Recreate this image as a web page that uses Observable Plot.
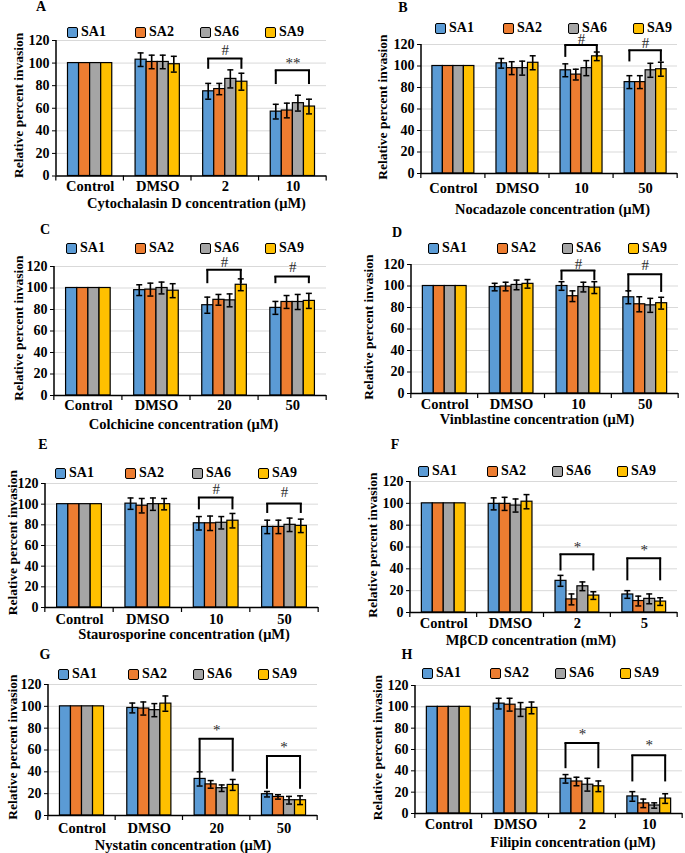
<!DOCTYPE html>
<html><head><meta charset="utf-8">
<script src="https://cdn.jsdelivr.net/npm/d3@7"></script>
<script src="https://cdn.jsdelivr.net/npm/@observablehq/plot@0.6"></script>
<style>
body{margin:0;background:#fff;}
#fig{position:relative;width:685px;height:853px;overflow:hidden;background:#fff;font-family:"Liberation Serif","Times New Roman",serif;color:#000;}
.letter{position:absolute;font-weight:bold;font-size:14px;transform:translate(-50%,-50%);}
.leg{position:absolute;display:flex;align-items:center;font-weight:bold;font-size:14px;transform:translateY(-50%);white-space:nowrap;}
.sw{box-sizing:border-box;width:11px;height:11px;border:1.5px solid #000;border-radius:2px;margin-right:3px;}
svg.p{position:absolute;}
</style></head><body><div id="fig"></div><script>
const series = ["SA1","SA2","SA6","SA9"];
const seriesColors = ["#5B9BD5","#ED7D31","#A5A5A5","#FFC000"];
const yTicks = [0,20,40,60,80,100,120];
const yLabel = "Relative percent invasion";

// Panel A
const groupsA = ["Control","DMSO","2","10"];
const titleA = "Cytochalasin D concentration (μM)";
const meansA = [[100,100,100,100],[103,101,101,99],[75,77,86,83.5],[57,58,64.5,61.5]];
const errsA = [[0,0,0,0],[6,6,6,7],[7,5,8,7.5],[6.5,6.5,7,6.5]];
const brGroupsA = ["2","10"], brTopA = [104,93.6], brLegA = [94.5,81], brTextYA = [111,99.5], brTextA = ["#","**"];
// Panel B
const groupsB = ["Control","DMSO","10","50"];
const titleB = "Nocadazole concentration (μM)";
const meansB = [[100,100,100,100],[102.5,98,98,103],[96,92,98,109],[85,85,96,97]];
const errsB = [[0,0,0,0],[4.5,6,6.5,6.5],[6,5,7,4],[6,6,6.5,6.5]];
const brGroupsB = ["10","50"], brTopB = [119.5,114.7], brLegB = [108,103.8], brTextYB = [125.3,121], brTextB = ["#","#"];
// Panel C
const groupsC = ["Control","DMSO","20","50"];
const titleC = "Colchicine concentration (μM)";
const meansC = [[100,100,100,100],[98,98.5,100,97.5],[84,89,88.5,103],[81.5,87,87,88]];
const errsC = [[0,0,0,0],[5,6,5.5,6.5],[7.5,5,6,5.5],[6,6,7,7]];
const brGroupsC = ["20","50"], brTopC = [117,110.7], brLegC = [104,104], brTextYC = [124,119], brTextC = ["#","#"];
// Panel D
const groupsD = ["Control","DMSO","10","50"];
const titleD = "Vinblastine concentration (μM)";
const meansD = [[100,100,100,100],[99,99.5,101,102],[100,90.5,99,98.5],[89.5,83,82,84]];
const errsD = [[0,0,0,0],[3.5,4,4.5,4],[4,5,4.5,5.5],[6,7,6.5,5.5]];
const brGroupsD = ["10","50"], brTopD = [114.4,111], brLegD = [105,94], brTextYD = [120.6,119.7], brTextD = ["#","#"];
// Panel E
const groupsE = ["Control","DMSO","10","50"];
const titleE = "Staurosporine concentration (μM)";
const meansE = [[100,100,100,100],[100.5,98.5,100,100],[81.5,81.5,82,84],[78,78,80,79]];
const errsE = [[0,0,0,0],[5.5,7,6,5.5],[6.5,7,6,7],[6.5,6.5,6.5,6.5]];
const brGroupsE = ["10","50"], brTopE = [106.5,100.6], brLegE = [94.5,91], brTextYE = [114.5,112], brTextE = ["#","#"];
// Panel F
const groupsF = ["Control","DMSO","2","5"];
const titleF = "MβCD concentration (mM)";
const meansF = [[100,100,100,100],[99.5,99.5,98,101.5],[29,12,24,15.5],[16.5,10.5,12.5,10]];
const errsF = [[0,0,0,0],[5.5,6,6,6.5],[5,5,4,3.5],[3.5,4.5,4.5,3.5]];
const brGroupsF = ["2","5"], brTopF = [53.4,49.8], brLegF = [38,29], brTextYF = [59.5,57], brTextF = ["*","*"];
// Panel G
const groupsG = ["Control","DMSO","20","50"];
const titleG = "Nystatin concentration (μM)";
const meansG = [[100,100,100,100],[98.5,98,96.5,102.5],[33.5,28.5,25,28],[19.5,17,14,14]];
const errsG = [[0,0,0,0],[4.5,6,6,7],[6.5,3.5,3,5],[2.5,2,3.5,4]];
const brGroupsG = ["20","50"], brTopG = [70.4,54.5], brLegG = [39.8,24], brTextYG = [78,62.7], brTextG = ["*","*"];
// Panel H
const groupsH = ["Control","DMSO","2","10"];
const titleH = "Filipin concentration (μM)";
const meansH = [[100,100,100,100],[103,102,97.5,99],[32.5,30,27,25.5],[16,9.5,7.5,14]];
const errsH = [[0,0,0,0],[5,6,6.5,5.5],[4,4,6,5],[4.5,4,2.5,4.5]];
const brGroupsH = ["2","10"], brTopH = [66,54.5], brLegH = [42,29.6], brTextYH = [74.8,64], brTextH = ["*","*"];

const panels = [
  {letter:"A", groups:groupsA, title:titleA, means:meansA, errs:errsA, brG:brGroupsA, brTop:brTopA, brLeg:brLegA, brTY:brTextYA, brT:brTextA},
  {letter:"B", groups:groupsB, title:titleB, means:meansB, errs:errsB, brG:brGroupsB, brTop:brTopB, brLeg:brLegB, brTY:brTextYB, brT:brTextB},
  {letter:"C", groups:groupsC, title:titleC, means:meansC, errs:errsC, brG:brGroupsC, brTop:brTopC, brLeg:brLegC, brTY:brTextYC, brT:brTextC},
  {letter:"D", groups:groupsD, title:titleD, means:meansD, errs:errsD, brG:brGroupsD, brTop:brTopD, brLeg:brLegD, brTY:brTextYD, brT:brTextD},
  {letter:"E", groups:groupsE, title:titleE, means:meansE, errs:errsE, brG:brGroupsE, brTop:brTopE, brLeg:brLegE, brTY:brTextYE, brT:brTextE},
  {letter:"F", groups:groupsF, title:titleF, means:meansF, errs:errsF, brG:brGroupsF, brTop:brTopF, brLeg:brLegF, brTY:brTextYF, brT:brTextF},
  {letter:"G", groups:groupsG, title:titleG, means:meansG, errs:errsG, brG:brGroupsG, brTop:brTopG, brLeg:brLegG, brTY:brTextYG, brT:brTextG},
  {letter:"H", groups:groupsH, title:titleH, means:meansH, errs:errsH, brG:brGroupsH, brTop:brTopH, brLeg:brLegH, brTY:brTextYH, brT:brTextH}
];

// Layout (page pixel coordinates)
const layout = {
  A:{left:56, right:326, top:39.5, bottom:175, tickY:185, titleY:202, titleDx:5, ylabX:18, ylabDy:-3, legY:32, legX:[67,135,200,265], letterXY:[41,7]},
  B:{left:421, right:677, top:44, bottom:173, tickY:187, titleY:209, titleDx:3, ylabX:382, ylabDy:-2, legY:28, legX:[435,503,568,633], letterXY:[403,8]},
  C:{left:54, right:326, top:266, bottom:395, tickY:404, titleY:424, titleDx:-7, ylabX:18, ylabDy:-3, legY:248, legX:[66,135,200,265], letterXY:[45,230]},
  D:{left:411, right:678, top:264, bottom:393, tickY:403, titleY:419, titleDx:-8, ylabX:368, ylabDy:-2, legY:248, legX:[428,497,562,628], letterXY:[397,233]},
  E:{left:45, right:318, top:483, bottom:607, tickY:618, titleY:634, titleDx:2, ylabX:12, ylabDy:-3, legY:473, legX:[55,125,192,258], letterXY:[43,445]},
  F:{left:410, right:677, top:481, bottom:612, tickY:622, titleY:640, titleDx:-13, ylabX:372, ylabDy:-2, legY:471, legX:[418,487,552,617], letterXY:[395,445]},
  G:{left:48, right:317, top:684, bottom:815, tickY:827, titleY:845, titleDx:0, ylabX:12, ylabDy:-3, legY:674, legX:[58,128,193,258], letterXY:[45,655]},
  H:{left:415, right:682, top:685, bottom:813, tickY:823, titleY:842, titleDx:24, ylabX:377, ylabDy:-2, legY:673, legX:[422,490,555,620], letterXY:[407,655]}
};

const fig = document.getElementById("fig");
const pi = 0.345, po = 0.17;
const mL = 62, mR = 12, mT = 24, mB = 50;

for (const p of panels) {
  const L = layout[p.letter];
  const fw = L.right - L.left, fh = L.bottom - L.top;
  const n = p.groups.length;
  const step = fw / (n - pi + 2 * po);
  const bw = step * (1 - pi), b = bw / 4;
  const pxToY = 120 / fh;
  const rows = p.groups.flatMap((g, i) => series.map((s, j) => ({group: g, j, mean: p.means[i][j], err: p.errs[i][j]})));
  const brs = p.brG.map((g, k) => ({group: g, top: p.brTop[k], leg: p.brLeg[k], ty: p.brTY[k], text: p.brT[k]}));
  const marks = [
    Plot.ruleY(yTicks.filter(t => t > 0), {stroke: "#d9d9d9", strokeWidth: 1}),
    ...series.map((s, j) => Plot.barY(rows.filter(r => r.j === j), {
      x: "group", y: "mean", fill: seriesColors[j], stroke: "#000", strokeWidth: 1.2,
      insetLeft: j * b, insetRight: (3 - j) * b
    })),
    ...series.flatMap((s, j) => {
      const c = (j + 0.5) * b;
      const d = rows.filter(r => r.j === j && r.err > 0);
      return [
        Plot.barY(d, {x: "group", y1: r => r.mean - r.err, y2: r => r.mean + r.err, fill: "#000", insetLeft: c - 0.8, insetRight: bw - c - 0.8}),
        Plot.tickY(d, {x: "group", y: r => r.mean + r.err, stroke: "#000", strokeWidth: 1.5, insetLeft: c - 3, insetRight: bw - c - 3}),
        Plot.tickY(d, {x: "group", y: r => r.mean - r.err, stroke: "#000", strokeWidth: 1.5, insetLeft: c - 3, insetRight: bw - c - 3})
      ];
    }),
    Plot.barY(brs, {x: "group", y1: "leg", y2: "top", fill: "#000", insetLeft: 0.5 * b - 1, insetRight: bw - 0.5 * b - 1}),
    Plot.barY(brs, {x: "group", y1: "leg", y2: "top", fill: "#000", insetLeft: 3.5 * b - 1, insetRight: 0.5 * b - 1}),
    Plot.tickY(brs, {x: "group", y: "top", stroke: "#000", strokeWidth: 2, insetLeft: 0.5 * b - 1, insetRight: 0.5 * b - 1}),
    Plot.text(brs, {x: "group", y: "ty", text: "text", fontSize: 15, fill: "#2b2b2b"}),
    Plot.ruleY([0], {stroke: "#000", strokeWidth: 1.5}),
    Plot.barY([0], {y1: 0, y2: 120, fill: "#000", insetLeft: -0.75, insetRight: fw - 0.75}),
    Plot.barY(p.groups, {x: d => d, y1: 0, y2: -5 * pxToY, fill: "#000", insetLeft: -step * pi / 2 - 0.6, insetRight: bw + step * pi / 2 - 0.6}),
    Plot.barY([p.groups[n - 1]], {x: d => d, y1: 0, y2: -5 * pxToY, fill: "#000", insetLeft: bw + step * pi / 2 - 0.6, insetRight: -step * pi / 2 - 0.6}),
    Plot.axisY({ticks: yTicks, tickSize: 4, tickPadding: 3, fontSize: 14, fontWeight: "bold", label: null}),
    Plot.axisX({tickSize: 0, tickPadding: (L.tickY - L.bottom) - 4.8, fontSize: 14.5, fontWeight: "bold", label: null}),
    Plot.text([p.title], {frameAnchor: "bottom", dy: L.titleY - L.bottom, dx: L.titleDx, fontSize: 14.5, fontWeight: "bold", lineAnchor: "middle", textAnchor: "middle"}),
    Plot.text([yLabel], {frameAnchor: "left", dx: L.ylabX - L.left, dy: L.ylabDy, rotate: -90, fontSize: 13.5, fontWeight: "bold", lineAnchor: "middle", textAnchor: "middle"})
  ];
  const svg = Plot.plot({
    width: fw + mL + mR, height: fh + mT + mB,
    marginLeft: mL, marginRight: mR, marginTop: mT, marginBottom: mB,
    x: {type: "band", domain: p.groups, paddingInner: pi, paddingOuter: po, round: false},
    y: {domain: [0, 120]},
    style: {background: "transparent", overflow: "visible", maxWidth: "none", fontFamily: "'Liberation Serif','Times New Roman',serif", color: "#000"},
    marks
  });
  svg.classList.add("p");
  svg.style.left = (L.left - mL) + "px";
  svg.style.top = (L.top - mT) + "px";
  fig.appendChild(svg);

  const lt = document.createElement("div");
  lt.className = "letter";
  lt.textContent = p.letter;
  lt.style.left = L.letterXY[0] + "px";
  lt.style.top = L.letterXY[1] + "px";
  fig.appendChild(lt);

  series.forEach((s, j) => {
    const it = document.createElement("div");
    it.className = "leg";
    it.style.left = L.legX[j] + "px";
    it.style.top = L.legY + "px";
    const sw = document.createElement("div");
    sw.className = "sw";
    sw.style.background = seriesColors[j];
    const tx = document.createElement("span");
    tx.textContent = s;
    it.appendChild(sw); it.appendChild(tx);
    fig.appendChild(it);
  });
}
</script></body></html>
